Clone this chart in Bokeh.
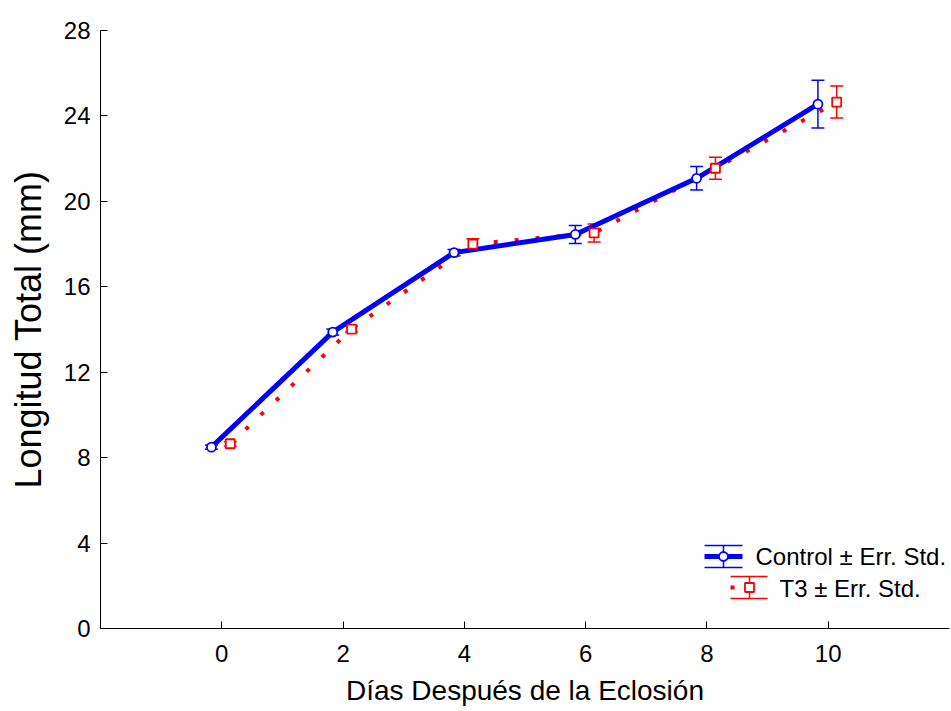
from bokeh.plotting import figure
from bokeh.models import ColumnDataSource, Whisker, TeeHead, FixedTicker, Range1d
from bokeh.core.properties import value
from bokeh.transform import dodge
from bokeh.embed import file_html
from bokeh.resources import INLINE

# ---- data ----
days = [0, 2, 4, 6, 8, 10]
control_mean = [8.49, 13.88, 17.60, 18.45, 21.08, 24.55]
control_se = [0.10, 0.14, 0.15, 0.42, 0.55, 1.12]
t3_mean = [8.65, 14.02, 18.00, 18.52, 21.55, 24.65]
t3_se = [0.10, 0.14, 0.25, 0.42, 0.52, 0.75]
x_ticks = [0, 2, 4, 6, 8, 10]
y_ticks = [0, 4, 8, 12, 16, 20, 24, 28]
x_label = "Días Después de la Eclosión"
y_label = "Longitud Total (mm)"
legend_labels = ["Control ± Err. Std.", "T3 ± Err. Std."]

BLUE = "#0000ff"
RED = "#ff0000"
FONT = "Liberation Sans"

W, H = 951, 711
BL, BR, BT, BB = 100, 2, 30, 83
XR = (-2, 12)
YR = (0, 28)

ctrl = ColumnDataSource(dict(
    x=days, y=control_mean,
    lo=[m - s for m, s in zip(control_mean, control_se)],
    hi=[m + s for m, s in zip(control_mean, control_se)]))
t3 = ColumnDataSource(dict(
    x=days, y=t3_mean,
    lo=[m - s for m, s in zip(t3_mean, t3_se)],
    hi=[m + s for m, s in zip(t3_mean, t3_se)]))

p = figure(width=W, height=H, x_range=Range1d(*XR), y_range=Range1d(*YR),
           output_backend="svg", toolbar_location=None,
           min_border_left=BL, min_border_right=BR,
           min_border_top=BT, min_border_bottom=BB)
p.outline_line_color = None
p.xgrid.grid_line_color = None
p.ygrid.grid_line_color = None
p.background_fill_color = "white"
p.border_fill_color = "white"

for ax in (p.xaxis, p.yaxis):
    ax.major_tick_in = 7
    ax.major_tick_out = 0
    ax.minor_tick_line_color = None
    ax.axis_line_color = "black"
    ax.major_tick_line_color = "black"
    ax.major_label_text_font = FONT
    ax.major_label_text_font_size = "24px"
    ax.major_label_text_color = "black"
    ax.axis_label_text_font = FONT
    ax.axis_label_text_font_style = "normal"
    ax.axis_label_text_color = "black"

p.xaxis.ticker = FixedTicker(ticks=x_ticks)
p.yaxis.ticker = FixedTicker(ticks=y_ticks)
p.xaxis.axis_label = x_label
p.yaxis.axis_label = y_label
p.xaxis.axis_label_text_font_size = "28px"
p.yaxis.axis_label_text_font_size = "36px"
p.xaxis.major_label_standoff = 16
p.xaxis.axis_label_standoff = 10
p.yaxis.major_label_standoff = 10
p.yaxis.axis_label_standoff = 12

xc = dodge("x", -0.17, range=p.x_range)
xt = dodge("x", 0.14, range=p.x_range)

# lines
p.line(x=xt, y="y", source=t3, line_color=RED, line_width=4, line_dash="4 17")
p.line(x=xc, y="y", source=ctrl, line_color=BLUE, line_width=5)

# error bars
for src, xs, col in ((ctrl, xc, BLUE), (t3, xt, RED)):
    w = Whisker(base=xs, upper="hi", lower="lo", source=src,
                line_color=col, line_width=1.5,
                upper_head=TeeHead(size=13, line_color=col, line_width=1.5),
                lower_head=TeeHead(size=13, line_color=col, line_width=1.5))
    p.add_layout(w)

# markers
p.scatter(x=xc, y="y", source=ctrl, marker="circle", size=9,
          fill_color="white", line_color=BLUE, line_width=1.8, level="overlay")
p.scatter(x=xt, y="y", source=t3, marker="square", size=9,
          fill_color="white", line_color=RED, line_width=1.8, level="overlay")

# ---- legend (drawn manually, positions in pixels converted to data) ----
def sx(px):
    return XR[0] + (px - BL) / (W - BL - BR) * (XR[1] - XR[0])

def sy(py):
    return YR[0] + (H - BB - py) / (H - BT - BB) * (YR[1] - YR[0])

# control sample
p.line(x=[sx(704), sx(742)], y=[sy(556), sy(556)], line_color=BLUE, line_width=5)
p.segment(x0=[sx(704), sx(704), sx(723)], y0=[sy(545), sy(567), sy(545)],
          x1=[sx(742), sx(742), sx(723)], y1=[sy(545), sy(567), sy(567)],
          line_color=BLUE, line_width=1.5)
p.scatter(x=[sx(723)], y=[sy(556)], marker="circle", size=9,
          fill_color="white", line_color=BLUE, line_width=1.8, level="overlay")
# T3 sample
p.segment(x0=[sx(730), sx(730), sx(749)], y0=[sy(576), sy(598), sy(576)],
          x1=[sx(767), sx(767), sx(749)], y1=[sy(576), sy(598), sy(598)],
          line_color=RED, line_width=1.5)
p.scatter(x=[sx(732)], y=[sy(587)], marker="square", size=4,
          fill_color=RED, line_color=RED, line_width=0)
p.scatter(x=[sx(749)], y=[sy(587)], marker="square", size=9,
          fill_color="white", line_color=RED, line_width=1.8, level="overlay")

p.text(x=[sx(755), sx(779)], y=[sy(556), sy(588)], text=legend_labels,
       text_font=value(FONT), text_font_size="24px", text_color="black",
       text_align="left", text_baseline="middle")

open("out.html", "w").write(file_html(p, INLINE))
